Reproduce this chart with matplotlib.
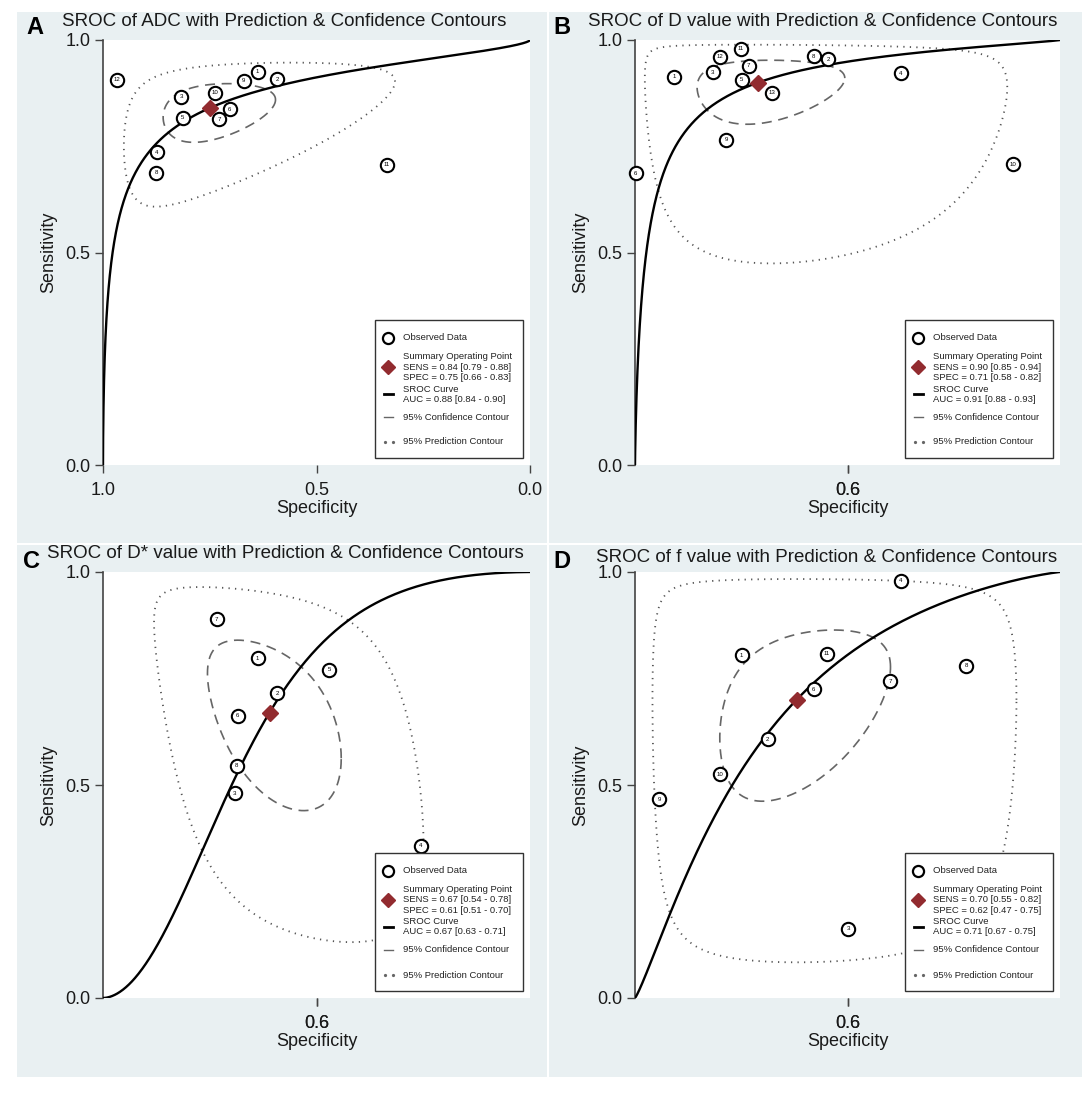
import numpy as np
import matplotlib
matplotlib.use("Agg")
import matplotlib.pyplot as plt
from matplotlib.patches import Rectangle

plt.rcParams['font.family'] = ['Liberation Sans', 'DejaVu Sans']

# ---------------- data ----------------
titles = ["SROC of ADC with Prediction & Confidence Contours",
          "SROC of D value with Prediction & Confidence Contours",
          "SROC of D* value with Prediction & Confidence Contours",
          "SROC of f value with Prediction & Confidence Contours"]
letters = ["A", "B", "C", "D"]

# study ids, specificity, sensitivity
ids_A = [1, 2, 3, 4, 5, 6, 7, 8, 9, 10, 11, 12]
spec_A = [0.638, 0.592, 0.817, 0.874, 0.813, 0.703, 0.728, 0.876, 0.670, 0.738, 0.336, 0.968]
sens_A = [0.925, 0.908, 0.867, 0.736, 0.817, 0.837, 0.813, 0.688, 0.904, 0.876, 0.707, 0.906]

ids_B = [1, 2, 3, 4, 5, 6, 7, 8, 9, 10, 11, 12, 13]
spec_B = [0.908, 0.545, 0.817, 0.374, 0.749, 0.998, 0.732, 0.580, 0.786, 0.111, 0.751, 0.800, 0.677]
sens_B = [0.914, 0.955, 0.924, 0.922, 0.906, 0.686, 0.940, 0.962, 0.765, 0.708, 0.979, 0.961, 0.876]

ids_C = [1, 2, 3, 4, 5, 6, 7, 8]
spec_C = [0.638, 0.592, 0.691, 0.255, 0.470, 0.685, 0.734, 0.687]
sens_C = [0.797, 0.715, 0.481, 0.357, 0.770, 0.662, 0.889, 0.545]

ids_D = [1, 2, 3, 4, 6, 7, 8, 9, 10, 11]
spec_D = [0.749, 0.688, 0.498, 0.375, 0.580, 0.400, 0.221, 0.943, 0.800, 0.549]
sens_D = [0.804, 0.607, 0.162, 0.979, 0.725, 0.744, 0.780, 0.467, 0.525, 0.808]

# summary operating points
sum_sens = [0.84, 0.90, 0.67, 0.70]
sum_spec = [0.75, 0.71, 0.61, 0.62]
sens_ci = ["[0.79 - 0.88]", "[0.85 - 0.94]", "[0.54 - 0.78]", "[0.55 - 0.82]"]
spec_ci = ["[0.66 - 0.83]", "[0.58 - 0.82]", "[0.51 - 0.70]", "[0.47 - 0.75]"]
auc = ["0.88 [0.84 - 0.90]", "0.91 [0.88 - 0.93]", "0.67 [0.63 - 0.71]", "0.71 [0.67 - 0.75]"]

# SROC slope in logit space (logit sens vs logit FPR), passes through summary point
sroc_slope = [0.62, 0.812, 1.8, 1.17]
# contour parameters in logit space: (sd logit FPR, sd logit sens, correlation)
conf_par = [(0.71, 0.51, 0.30), (0.87, 0.80, 0.15), (0.68, 0.95, -0.48), (0.90, 1.00, 0.40)]
pred_par = [(1.87, 1.22, 0.46), (2.85, 2.30, -0.05), (1.55, 2.60, -0.50), (2.66, 3.24, 0.0)]

# x tick setup
xticks_A = [1.0, 0.5, 0.0]
xlabels_A = ["1.0", "0.5", "0.0"]
xticks_other = [0.5, 0.5]
xlabels_other = ["0.0", "0.6"]
yticks = [0.0, 0.5, 1.0]
ylabels = ["0.0", "0.5", "1.0"]

studies = [(ids_A, spec_A, sens_A), (ids_B, spec_B, sens_B),
           (ids_C, spec_C, sens_C), (ids_D, spec_D, sens_D)]

# ---------------- layout ----------------
W, H = 1084, 1094
fig = plt.figure(figsize=(W / 100, H / 100), dpi=100)
fig.patch.set_facecolor('white')
bg = '#e9f0f2'

panels = [(17, 12, 547, 543), (549, 12, 1082, 543), (17, 545, 547, 1077), (549, 545, 1082, 1077)]
axes_px = [(103, 40, 530, 465), (635, 40, 1060, 465), (103, 572, 530, 998), (635, 572, 1060, 998)]
title_pos = [(284, 21), (823, 21), (285, 554), (827, 557)]
letter_pos = [(35, 27), (562, 27), (31, 562), (562, 562)]

for (x0, y0, x1, y1) in panels:
    fig.patches.append(Rectangle((x0 / W, 1 - y1 / H), (x1 - x0) / W, (y1 - y0) / H,
                                 transform=fig.transFigure, facecolor=bg, edgecolor='none',
                                 zorder=-5))


def logit(p):
    p = np.asarray(p, dtype=float)
    return np.log(p / (1 - p))


def expit(x):
    return 1 / (1 + np.exp(-x))


def ellipse(cx, cy, sx, sy, rho):
    t = np.linspace(0, 2 * np.pi, 400)
    lx = cx + sx * np.cos(t)
    ly = cy + sy * (rho * np.cos(t) + np.sqrt(1 - rho ** 2) * np.sin(t))
    return 1 - expit(lx), expit(ly)


dia_color = '#922b2f'
cont_gray = '#666666'
dot_gray = '#555555'

for i in range(4):
    l, t, r, b = axes_px[i]
    aw, ah = r - l, b - t
    ax = fig.add_axes([l / W, 1 - b / H, aw / W, ah / H])
    ax.set_zorder(2)
    ax.set_facecolor('white')
    ax.set_xlim(1.0, 0.0)
    ax.set_ylim(0.0, 1.0)
    for s in ['top', 'right', 'bottom']:
        ax.spines[s].set_visible(False)
    ax.spines['left'].set_color('#444444')
    ax.spines['left'].set_linewidth(1.2)
    ax.spines['left'].set_zorder(1)

    cfpr = logit(1 - sum_spec[i])
    csens = logit(sum_sens[i])

    # prediction contour
    px, py = ellipse(cfpr, csens, *pred_par[i])
    ax.plot(px, py, color=dot_gray, lw=1.3, linestyle=(0, (0.7, 2.9)), zorder=2)
    # confidence contour
    qx, qy = ellipse(cfpr, csens, *conf_par[i])
    ax.plot(qx, qy, color=cont_gray, lw=1.2, linestyle=(0, (6, 4)), zorder=2)

    # SROC curve
    L = np.linspace(-14, 14, 1500)
    B = sroc_slope[i]
    A = csens - B * cfpr
    ax.plot(1 - expit(L), expit(A + B * L), color='black', lw=1.7, zorder=3)

    # studies
    sid, sp, se = studies[i]
    ax.plot(sp, se, linestyle='none', marker='o', ms=9.6, mfc='white', mec='black',
            mew=1.5, zorder=4, clip_on=False)
    for k, x, y in zip(sid, sp, se):
        ax.text(x, y, str(k), ha='center', va='center', fontsize=4.4, zorder=5)

    # summary point
    ax.plot([sum_spec[i]], [sum_sens[i]], linestyle='none', marker='D', ms=8,
            color=dia_color, zorder=6)

    # ticks
    ax.set_yticks(yticks)
    ax.set_yticklabels(ylabels)
    if i == 0:
        ax.set_xticks(xticks_A)
        ax.set_xticklabels(xlabels_A)
    else:
        ax.set_xticks(xticks_other)
        ax.set_xticklabels(xlabels_other)
    ax.tick_params(axis='both', direction='out', length=6, width=1, color='#444444',
                   labelsize=13, labelcolor='#1a1a1a')
    ax.tick_params(axis='x', pad=6)
    ax.tick_params(axis='y', pad=3)
    ax.set_xlabel("Specificity", fontsize=13, labelpad=1, color='#1a1a1a')
    ax.set_ylabel("Sensitivity", fontsize=13, labelpad=6, color='#1a1a1a')

    # legend (drawn manually in axes fraction)
    bw, bh = 148, 138
    bx0 = aw - 7 - bw
    by0 = 7 + bh

    def fx(dx):
        return (bx0 + dx) / aw

    def fy(dy):
        return (by0 - dy) / ah

    ax.add_patch(Rectangle((fx(0), fy(bh)), bw / aw, bh / ah, transform=ax.transAxes,
                           facecolor='white', edgecolor='#333333', lw=1.0, zorder=7))
    kw = dict(transform=ax.transAxes, fontsize=6.8, va='center', ha='left', zorder=9,
              color='#222222')
    mx = 13
    tx = 28
    ax.plot([fx(mx)], [fy(17.5)], marker='o', ms=8, mfc='white', mec='black', mew=1.6,
            transform=ax.transAxes, zorder=8, clip_on=False)
    ax.text(fx(tx), fy(17.5), "Observed Data", **kw)
    ax.plot([fx(mx)], [fy(47)], marker='D', ms=7, color=dia_color,
            transform=ax.transAxes, zorder=8, clip_on=False)
    ax.text(fx(tx), fy(36.5), "Summary Operating Point", **kw)
    ax.text(fx(tx), fy(47), "SENS = %.2f %s" % (sum_sens[i], sens_ci[i]), **kw)
    ax.text(fx(tx), fy(57.5), "SPEC = %.2f %s" % (sum_spec[i], spec_ci[i]), **kw)
    ax.plot([fx(9), fx(18)], [fy(74), fy(74)], color='black', lw=2,
            transform=ax.transAxes, zorder=8, clip_on=False)
    ax.text(fx(tx), fy(69), "SROC Curve", **kw)
    ax.text(fx(tx), fy(79), "AUC = " + auc[i], **kw)
    ax.plot([fx(9), fx(18)], [fy(97), fy(97)], color=cont_gray, lw=1,
            transform=ax.transAxes, zorder=8, clip_on=False)
    ax.text(fx(tx), fy(97), "95% Confidence Contour", **kw)
    ax.plot([fx(10), fx(18)], [fy(122), fy(122)], linestyle='none', marker='o', ms=1.3,
            color=cont_gray, transform=ax.transAxes, zorder=8, clip_on=False)
    ax.text(fx(tx), fy(122), "95% Prediction Contour", **kw)

    # title and letter
    tx0, ty0 = title_pos[i]
    fig.text(tx0 / W, 1 - ty0 / H, titles[i], ha='center', va='center', fontsize=13.5,
             color='#1a1a1a', zorder=3)
    lx0, ly0 = letter_pos[i]
    fig.text(lx0 / W, 1 - ly0 / H, letters[i], ha='center', va='center', fontsize=17,
             color='black', fontweight='bold', zorder=3)

fig.savefig("out.png", dpi=100, facecolor='white')
